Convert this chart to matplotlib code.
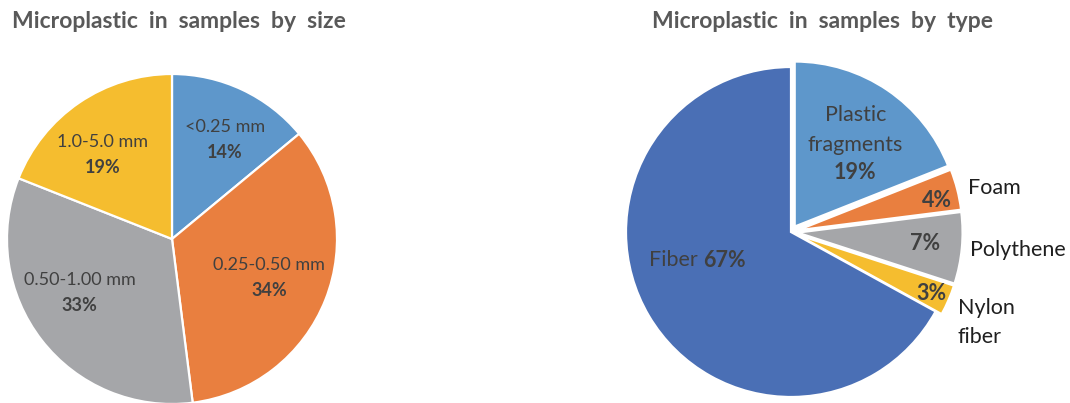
import numpy as np
import matplotlib
matplotlib.use("Agg")
import matplotlib.pyplot as plt

# Size distribution
size_labels = ["<0.25 mm", "0.25-0.50 mm", "0.50-1.00 mm", "1.0-5.0 mm"]
size_pct = [14, 34, 33, 19]
size_colors = ["#5E97CB", "#E97F3F", "#A5A6A9", "#F5BD2F"]

# Type distribution
type_labels = ["Plastic\nfragments", "Foam", "Polythene", "Nylon\nfiber", "Fiber"]
type_pct = [19, 4, 7, 3, 67]
type_colors = ["#5E97CB", "#E97F3F", "#A5A6A9", "#F5BD2F", "#4A6FB5"]
type_explode = [0.04, 0.04, 0.04, 0.04, 0.0]

W, H = 1070, 403
fig = plt.figure(figsize=(W / 100, H / 100), dpi=100)
fig.patch.set_facecolor("white")

FONT = "Lato"
TXT = "#404040"
TITLE = "#595959"
R_PX = 165
PAD = 1.35


def pie_axes(cx, cy):
    half = R_PX * PAD
    return fig.add_axes([(cx - half) / W, 1 - (cy + half) / H, 2 * half / W, 2 * half / H])


def finish(ax):
    ax.set_xlim(-PAD, PAD)
    ax.set_ylim(-PAD, PAD)
    ax.set_aspect("equal")
    ax.axis("off")


def stacked(ax, x, y, text, step, **kw):
    # draw multi-line text one line at a time with a fixed line step
    lines = text.split("\n")
    top = y + step * (len(lines) - 1) / 2
    for k, line in enumerate(lines):
        ax.text(x, top - k * step, line, va="center", **kw)


# ---- left pie: by size ----
axL = pie_axes(172, 239)
axL.pie(size_pct, colors=size_colors, startangle=90, counterclock=False, radius=1,
        wedgeprops=dict(edgecolor="white", linewidth=1.6))
finish(axL)

size_pos = [(0.32, 0.68), (0.59, -0.16), (-0.56, -0.25), (-0.42, 0.59)]
for lab, pct, (x, y) in zip(size_labels, size_pct, size_pos):
    axL.text(x, y, lab, ha="center", va="center", fontsize=13, family=FONT, color=TXT)
    axL.text(x, y - 0.155, f"{pct}%", ha="center", va="center", fontsize=13,
             family=FONT, fontweight="bold", color=TXT)

fig.text(179 / W, 1 - 22 / H, "Microplastic  in  samples  by  size", ha="center", va="center",
         fontsize=16.5, family=FONT, fontweight="bold", color=TITLE)

# ---- right pie: by type ----
axR = pie_axes(791, 232)
axR.pie(type_pct, colors=type_colors, startangle=90, counterclock=False, radius=1,
        explode=type_explode, wedgeprops=dict(edgecolor="white", linewidth=1.6))
finish(axR)

FS = 15.5
# Plastic fragments: name and value inside the wedge
stacked(axR, 0.39, 0.62, type_labels[0], 0.18, ha="center", fontsize=FS,
        family=FONT, color=TXT)
axR.text(0.39, 0.36, f"{type_pct[0]}%", ha="center", va="center", fontsize=FS,
         family=FONT, fontweight="bold", color=TXT)

# Small wedges: value inside, name outside
pct_pos = {1: (0.885, 0.19), 2: (0.81, -0.07), 3: (0.85, -0.37)}
for i, (x, y) in pct_pos.items():
    axR.text(x, y, f"{type_pct[i]}%", ha="center", va="center",
             fontsize=FS, family=FONT, fontweight="bold", color=TXT)

name_pos = {1: (1.07, 0.265), 2: (1.085, -0.11), 3: (1.01, -0.548)}
for i, (x, y) in name_pos.items():
    stacked(axR, x, y, type_labels[i], 0.176, ha="left", fontsize=FS,
            family=FONT, color="#1F1F1F")

# Fiber
axR.text(-0.53, -0.17, type_labels[4] + " ", ha="right", va="center", fontsize=FS,
         family=FONT, color=TXT)
axR.text(-0.53, -0.17, f"{type_pct[4]}%", ha="left", va="center", fontsize=FS,
         family=FONT, fontweight="bold", color=TXT)

fig.text(823 / W, 1 - 22 / H, "Microplastic  in  samples  by  type", ha="center", va="center",
         fontsize=16.5, family=FONT, fontweight="bold", color=TITLE)

fig.savefig("out.png", dpi=100, facecolor="white")
